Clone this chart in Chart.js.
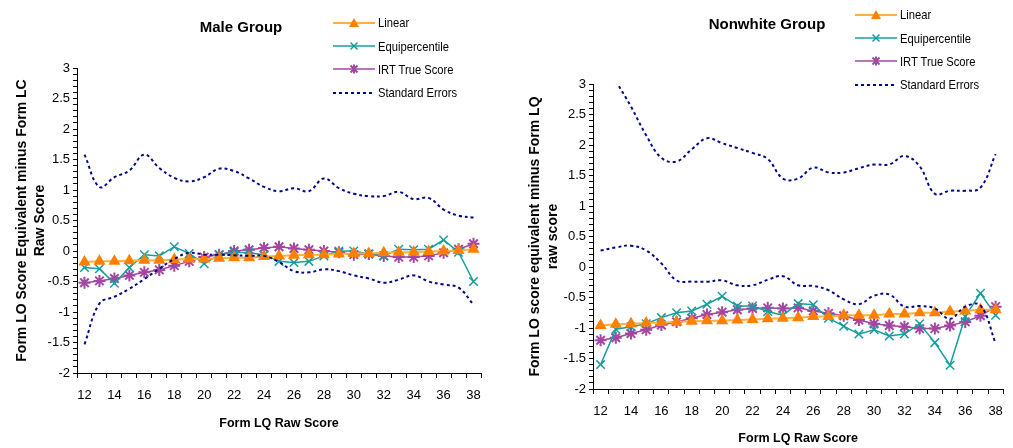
<!DOCTYPE html>
<html>
<head>
<meta charset="utf-8">
<script src="https://cdn.jsdelivr.net/npm/chart.js@4.4.1/dist/chart.umd.min.js"></script>
<style>
  body { margin: 0; width: 1013px; height: 448px; background: #fff; position: relative; overflow: hidden;
         font-family: 'Liberation Sans', Arial, sans-serif; color: #000; }
  .panel { position: absolute; top: 0; height: 448px; }
  .title { position: absolute; width: 220px; text-align: center; font-weight: bold; font-size: 15px; line-height: 20px; }
  .legend { position: absolute; font-size: 13.5px; }
  .legend .row { height: 23.4px; display: flex; align-items: center; }
  .legend svg { width: 44px; height: 12px; margin-right: 1px; flex: none; }
  .legend span { display: inline-block; transform: scaleX(0.83); transform-origin: left center; white-space: nowrap; }
</style>
</head>
<body>

<div class="panel" style="left:0;width:505px"><canvas id="maleChart" width="505" height="448"></canvas></div>
<div class="panel" style="left:505px;width:508px"><canvas id="nonwhiteChart" width="508" height="448"></canvas></div>

<div class="title" style="left:131px;top:17px">Male Group</div>
<div class="title" style="left:657px;top:14px">Nonwhite Group</div>

<div class="legend" id="maleLegend" style="left:333px;top:11px"></div>
<div class="legend" id="nonwhiteLegend" style="left:855px;top:3px"></div>

<script>
// Form LQ raw scores (x categories)
const scores = ['12','13','14','15','16','17','18','19','20','21','22','23','24','25','26',
                '27','28','29','30','31','32','33','34','35','36','37','38'];

// Male group
const maleLinear = [-0.18, -0.17, -0.17, -0.16, -0.15, -0.15, -0.14, -0.13, -0.13, -0.12, -0.11, -0.11, -0.09, -0.08,
                    -0.07, -0.06, -0.06, -0.05, -0.04, -0.04, -0.03, -0.02, -0.02, -0.01, 0.0, 0.01, 0.03];
const maleEquip = [-0.27, -0.29, -0.53, -0.27, -0.06, -0.08, 0.07, -0.04, -0.21, -0.06, -0.02, -0.03, -0.06, -0.17,
                   -0.19, -0.17, -0.08, 0.0, 0.0, -0.05, -0.08, 0.03, 0.02, 0.03, 0.18, -0.02, -0.5];
const maleIrt = [-0.52, -0.49, -0.45, -0.4, -0.35, -0.31, -0.24, -0.17, -0.1, -0.06, 0.0, 0.02, 0.05, 0.07,
                 0.04, 0.02, 0.0, -0.02, -0.06, -0.05, -0.08, -0.1, -0.1, -0.08, -0.03, 0.03, 0.12];
const maleSeUpper = [1.58, 1.05, 1.21, 1.32, 1.58, 1.36, 1.2, 1.14, 1.21, 1.35, 1.31, 1.19, 1.05, 0.98,
                     1.03, 0.98, 1.19, 1.03, 0.94, 0.9, 0.9, 0.97, 0.85, 0.87, 0.68, 0.58, 0.55];
const maleSeLower = [-1.53, -0.86, -0.75, -0.62, -0.46, -0.29, -0.13, -0.03, -0.06, -0.06, -0.07, -0.08, -0.08, -0.18,
                     -0.33, -0.35, -0.3, -0.33, -0.4, -0.45, -0.52, -0.47, -0.4, -0.5, -0.55, -0.6, -0.88];

// Nonwhite group
const nwLinear = [-0.96, -0.94, -0.93, -0.92, -0.91, -0.9, -0.89, -0.88, -0.88, -0.87, -0.86, -0.85, -0.84, -0.83,
                  -0.81, -0.81, -0.79, -0.79, -0.79, -0.77, -0.77, -0.75, -0.75, -0.73, -0.72, -0.7, -0.7];
const nwEquip = [-1.6, -1.02, -0.98, -0.93, -0.83, -0.75, -0.72, -0.61, -0.48, -0.64, -0.64, -0.73, -0.79, -0.6,
                 -0.62, -0.84, -0.97, -1.1, -1.03, -1.13, -1.1, -0.93, -1.24, -1.61, -0.81, -0.43, -0.79];
const nwIrt = [-1.2, -1.16, -1.09, -1.03, -0.95, -0.9, -0.84, -0.78, -0.74, -0.7, -0.68, -0.67, -0.68, -0.67,
               -0.72, -0.76, -0.8, -0.87, -0.93, -0.96, -0.98, -1.01, -1.01, -0.96, -0.9, -0.8, -0.65];
const nwSeUpper = [null, 3.05, 2.63, 2.16, 1.79, 1.73, 1.93, 2.11, 2.03, 1.95, 1.87, 1.77, 1.45, 1.45,
                   1.63, 1.55, 1.55, 1.62, 1.68, 1.68, 1.82, 1.65, 1.2, 1.25, 1.25, 1.3, 1.85];
const nwSeLower = [0.27, 0.32, 0.35, 0.27, 0.06, -0.22, -0.24, -0.24, -0.22, -0.3, -0.3, -0.21, -0.15, -0.3,
                   -0.31, -0.38, -0.53, -0.61, -0.47, -0.45, -0.65, -0.64, -0.68, -0.85, -0.65, -0.63, -1.25];

const COL_LIN_LINE = '#FFB13B', COL_LIN_PT = '#FF8000';
const COL_EQ = '#169E9E';
const COL_IRT = '#A347A3';
const COL_SE = '#00088A';
const FONT = "'Liberation Sans', Arial, sans-serif";

function seSet(data) {
  return {
    data: data, borderColor: COL_SE, borderWidth: 2, borderDash: [3, 3],
    pointRadius: 0, tension: 0.4, fill: false
  };
}

function buildDatasets(lin, eq, irt, up, low) {
  return [
    seSet(up),
    seSet(low),
    { label: 'Linear', data: lin, borderColor: COL_LIN_LINE, borderWidth: 2,
      pointStyle: 'triangle', pointRadius: 5, pointBackgroundColor: COL_LIN_PT, pointBorderColor: COL_LIN_PT },
    { label: 'Equipercentile', data: eq, borderColor: COL_EQ, borderWidth: 1.5,
      pointStyle: 'crossRot', pointRadius: 6, pointBorderColor: COL_EQ, pointBorderWidth: 1.5 },
    { label: 'IRT True Score', data: irt, borderColor: COL_IRT, borderWidth: 1.5,
      pointStyle: 'star', pointRadius: 6, pointBorderColor: COL_IRT, pointBorderWidth: 2 }
  ];
}

function makeChart(id, datasets, g) {
  return new Chart(document.getElementById(id), {
    type: 'line',
    data: { labels: scores, datasets: datasets },
    options: {
      responsive: false,
      animation: false,
      layout: { padding: { left: 0, top: g.top, right: g.right, bottom: 0 } },
      plugins: { legend: { display: false }, tooltip: { enabled: false } },
      scales: {
        x: {
          offset: true,
          afterFit: s => { s.height = g.xHeight; },
          border: { color: '#000', width: 1 },
          grid: { offset: true, drawOnChartArea: false, tickLength: 5, color: '#000' },
          ticks: {
            autoSkip: false, maxRotation: 0, padding: 10, color: '#000',
            font: { family: FONT, size: 13 },
            callback: function (v, i) { return i % 2 === 0 ? this.getLabelForValue(v) : ''; }
          },
          title: { display: true, text: 'Form LQ Raw Score', color: '#000',
                   font: { family: FONT, size: 12.5, weight: 'bold', lineHeight: '18px' },
                   padding: { top: 0, bottom: g.xTitlePad } }
        },
        y: {
          min: -2, max: 3,
          afterFit: s => { s.width = g.yWidth; },
          border: { color: '#000', width: 1 },
          grid: { drawOnChartArea: false, tickLength: 4, color: '#000' },
          ticks: {
            stepSize: 0.1, autoSkip: false, padding: 3, color: '#000',
            font: { family: FONT, size: 13 },
            callback: v => {
              const r = Math.round(v * 10) / 10;
              return Math.abs(r * 2 - Math.round(r * 2)) < 1e-9 ? String(r) : '';
            }
          },
          title: { display: true, text: g.yTitle, color: '#000',
                   font: { family: FONT, size: 14, weight: 'bold', lineHeight: '18px' },
                   padding: { top: g.yTitlePad, bottom: 0 } }
        }
      }
    }
  });
}

makeChart('maleChart', buildDatasets(maleLinear, maleEquip, maleIrt, maleSeUpper, maleSeLower), {
  top: 68, right: 24, xHeight: 75, yWidth: 77, xTitlePad: 15, yTitlePad: 13,
  yTitle: ['Form LO Score Equivalent minus Form LC', 'Raw Score']
});

makeChart('nonwhiteChart', buildDatasets(nwLinear, nwEquip, nwIrt, nwSeUpper, nwSeLower), {
  top: 84, right: 3, xHeight: 59, yWidth: 88, xTitlePad: 0, yTitlePad: 21,
  yTitle: ['Form LO score equivalent minus Form LQ', 'raw score']
});

// legends (HTML text with small svg keys)
const legendKeys = [
  { text: 'Linear', svg: `<line x1="0" y1="6" x2="42" y2="6" stroke="${COL_LIN_LINE}" stroke-width="2"/>
      <polygon points="21,1 26,10 16,10" fill="${COL_LIN_PT}"/>` },
  { text: 'Equipercentile', svg: `<line x1="0" y1="6" x2="42" y2="6" stroke="${COL_EQ}" stroke-width="1.5"/>
      <path d="M17.5 2.5 L24.5 9.5 M17.5 9.5 L24.5 2.5" stroke="${COL_EQ}" stroke-width="1.5"/>` },
  { text: 'IRT True Score', svg: `<line x1="0" y1="6" x2="42" y2="6" stroke="${COL_IRT}" stroke-width="1.5"/>
      <path d="M17.5 2.5 L24.5 9.5 M17.5 9.5 L24.5 2.5 M21 1.5 L21 10.5" stroke="${COL_IRT}" stroke-width="2"/>` },
  { text: 'Standard Errors', svg: `<line x1="0" y1="6" x2="42" y2="6" stroke="${COL_SE}" stroke-width="2" stroke-dasharray="3,3"/>` }
];

['maleLegend', 'nonwhiteLegend'].forEach(id => {
  document.getElementById(id).innerHTML = legendKeys.map(k =>
    `<div class="row"><svg viewBox="0 0 44 12">${k.svg}</svg><span>${k.text}</span></div>`).join('');
});
</script>
</body>
</html>
